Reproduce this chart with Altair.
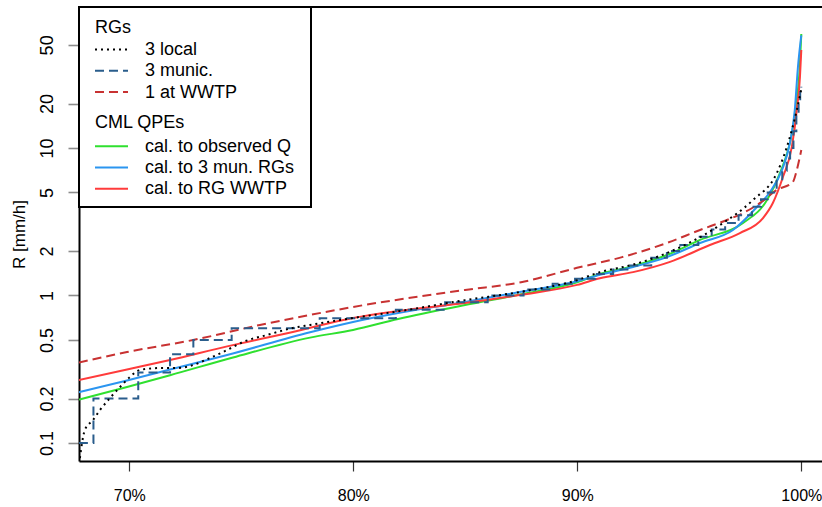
import altair as alt
import pandas as pd

# Exceedance percentile (%) and rain rate R (mm/h) for each series

# Rain gauges
local_x = [67.76, 68.02, 68.38, 68.69, 69.14, 69.67, 70.03, 70.48, 71.37, 72.13, 72.85,
           73.6, 74.37, 75.08, 76.15, 77.3, 78.07, 79.99, 82.0, 84.99, 87.49, 89.99,
           91.01, 92.5, 94.0, 96.23, 97.84, 98.91, 99.36, 99.8, 100.0]
local_r = [0.072, 0.123, 0.143, 0.167, 0.202, 0.247, 0.28, 0.313, 0.322, 0.322, 0.338,
           0.377, 0.427, 0.484, 0.54, 0.602, 0.631, 0.704, 0.78, 0.93, 1.06, 1.27,
           1.44, 1.62, 1.94, 2.91, 4.44, 6.77, 10.2, 18.1, 25.0]

# municipal gauges: 0.1 mm/h resolution, so the curve is a staircase
munic_x = [67.75, 68.40, 70.40, 71.82, 72.86, 74.57, 78.5, 81.9, 84.1, 86.0, 87.6, 88.9,
           89.9, 90.8, 91.6, 92.3, 93.3, 94.0, 94.6, 95.4, 96.0, 96.6, 97.2, 97.8, 98.2,
           98.5, 98.9, 99.15, 99.35, 99.5, 99.65, 99.78, 99.88, 99.95, 100.0]
munic_r = [0.1, 0.2, 0.3, 0.4, 0.5, 0.6, 0.7, 0.8, 0.9, 1.0, 1.1, 1.2,
           1.3, 1.4, 1.5, 1.6, 1.8, 2.0, 2.2, 2.5, 2.8, 3.1, 3.5, 4.0, 4.5,
           5.0, 6.0, 7.0, 8.5, 10.0, 13.0, 17.0, 21.0, 25.0, 26.0]

wwtp_x = [67.75, 69.9, 72.85, 75.83, 78.07, 79.99, 84.99, 87.49, 89.99, 92.0, 94.0,
          95.48, 96.68, 97.4, 98.16, 98.9, 99.62, 99.8, 100.0]
wwtp_r = [0.351, 0.414, 0.499, 0.631, 0.738, 0.836, 1.09, 1.23, 1.54, 1.82, 2.27,
          2.78, 3.25, 3.62, 4.24, 5.19, 5.88, 7.1, 9.7]

# CML quantitative precipitation estimates
calq_x = [67.75, 69.9, 71.82, 74.63, 78.07, 79.99, 82.0, 84.99, 87.49, 89.99, 91.01,
          92.49, 94.0, 95.48, 97.4, 98.47, 99.05, 99.58, 99.8, 99.93, 100.0]
calq_r = [0.197, 0.24, 0.288, 0.38, 0.518, 0.584, 0.693, 0.862, 1.02, 1.23, 1.4,
          1.58, 1.88, 2.38, 3.10, 4.44, 6.77, 12.6, 21.1, 35.0, 59.3]

calmun_x = [67.75, 69.9, 71.82, 74.37, 78.07, 79.99, 82.0, 84.99, 87.49, 89.99, 91.01,
            92.49, 94.0, 95.48, 96.95, 98.02, 98.6, 99.14, 99.49, 99.71, 99.85, 100.0]
calmun_r = [0.221, 0.265, 0.315, 0.395, 0.563, 0.661, 0.76, 0.903, 1.06, 1.25, 1.38,
            1.56, 1.82, 2.27, 2.78, 3.98, 5.03, 7.1, 10.8, 18.1, 35.4, 58.0]

calwwtp_x = [67.75, 69.9, 71.82, 74.37, 77.3, 79.99, 82.0, 84.99, 87.49, 89.99, 91.01,
             92.49, 94.14, 95.92, 97.26, 98.29, 98.73, 99.18, 99.58, 99.8, 99.94, 100.0]
calwwtp_r = [0.267, 0.315, 0.365, 0.452, 0.566, 0.704, 0.785, 0.889, 1.01, 1.18, 1.31,
             1.44, 1.69, 2.20, 2.65, 3.35, 4.24, 6.36, 10.2, 18.1, 30.3, 46.2]

# legend text
rg_title = "RGs"
rg_labels = ["3 local", "3 munic.", "1 at WWTP"]
cml_title = "CML QPEs"
cml_labels = ["cal. to observed Q", "cal. to 3 mun. RGs", "cal. to RG WWTP"]

FONT = "Liberation Sans"
W, H = 743, 454

DOT = [2, 4]
DASH = [9, 5]
C_LOCAL, C_MUNIC, C_WWTP = "#000000", "#2a5d8c", "#c83232"
C_Q, C_MUN, C_RGW = "#2fe02f", "#2b95f0", "#ff3b3b"

x_scale = alt.Scale(domain=[67.755, 100.924], nice=False, zero=False)
y_scale = alt.Scale(type="log", domain=[0.0755, 90.3], nice=False)

x_axis = alt.Axis(
    values=[70, 80, 90, 100], labelExpr="datum.value + '%'", title=None, grid=False,
    domainColor="black", domainWidth=2, tickColor="#333333", tickSize=10, tickWidth=1.2,
    labelFont=FONT, labelFontSize=16, labelColor="black", labelPadding=16,
    labelFlush=False, labelOverlap=False,
)
y_axis = alt.Axis(
    values=[0.1, 0.2, 0.5, 1, 2, 5, 10, 20, 50], format="~g", grid=False,
    domainColor="black", domainWidth=2, tickColor="#8c8c8c", tickSize=11, tickWidth=1.6,
    labelFont=FONT, labelFontSize=18, labelColor="black", labelAngle=270,
    labelAlign="center", labelBaseline="alphabetic", labelPadding=16,
    labelFlush=False, labelOverlap=False,
    title="R [mm/h]", titleFont=FONT, titleFontSize=17, titleFontWeight="normal",
    titleColor="black", titleAngle=270, titleAlign="center", titleBaseline="alphabetic",
    titleX=-55, titleY=227,
)


def series(xs, rs, color, dash=None, interp="monotone"):
    df = pd.DataFrame({"pct": xs, "R": rs})
    kw = dict(color=color, strokeWidth=2, clip=True, interpolate=interp, strokeCap="butt")
    if dash:
        kw["strokeDash"] = dash
    return alt.Chart(df).mark_line(**kw).encode(
        x=alt.X("pct:Q", scale=x_scale, axis=x_axis),
        y=alt.Y("R:Q", scale=y_scale, axis=y_axis),
    )


lines = [
    series(calq_x, calq_r, C_Q),
    series(calmun_x, calmun_r, C_MUN),
    series(calwwtp_x, calwwtp_r, C_RGW),
    series(wwtp_x, wwtp_r, C_WWTP, DASH),
    series(munic_x, munic_r, C_MUNIC, DASH, "step-after"),
    series(local_x, local_r, C_LOCAL, DOT),
]

one = alt.Data(values=[{}])

# top edge of the plot frame
frame_top = alt.Chart(one).mark_rule(color="black", strokeWidth=2).encode(
    x=alt.value(0), x2=alt.value(W), y=alt.value(0)
)

# legend box and its entries
legend_box = alt.Chart(one).mark_rect(fill="white", stroke="black", strokeWidth=2).encode(
    x=alt.value(0), x2=alt.value(232), y=alt.value(0), y2=alt.value(200)
)


def legend_text(label, x, y):
    return alt.Chart(alt.Data(values=[{"t": label}])).mark_text(
        align="left", baseline="alphabetic", font=FONT, fontSize=18, color="black"
    ).encode(x=alt.value(x), y=alt.value(y), text="t:N")


def legend_line(y, color, dash=None):
    kw = dict(color=color, strokeWidth=2, strokeCap="butt")
    if dash:
        kw["strokeDash"] = dash
    return alt.Chart(one).mark_rule(**kw).encode(
        x=alt.value(16), x2=alt.value(49), y=alt.value(y)
    )


legend_layers = [legend_box, legend_text(rg_title, 16, 26.3), legend_text(cml_title, 16, 120.7)]
rg_styles = [(C_LOCAL, DOT), (C_MUNIC, DASH), (C_WWTP, DASH)]
for i, (lab, (col, dsh)) in enumerate(zip(rg_labels, rg_styles)):
    base = 48 + 21.3 * i
    legend_layers += [legend_line(base - 5.5, col, dsh), legend_text(lab, 66, base)]
cml_colors = [C_Q, C_MUN, C_RGW]
for i, (lab, col) in enumerate(zip(cml_labels, cml_colors)):
    base = 144.7 + 21.3 * i
    legend_layers += [legend_line(base - 5.5, col), legend_text(lab, 66, base)]

chart = alt.layer(*lines, frame_top, *legend_layers).properties(
    width=W, height=H,
    padding={"left": 79, "top": 7, "right": 0, "bottom": 46},
    autosize="none",
    background="white",
).configure_view(stroke=None)

chart.save("out.html", embed_options={"renderer": "svg", "actions": False})
